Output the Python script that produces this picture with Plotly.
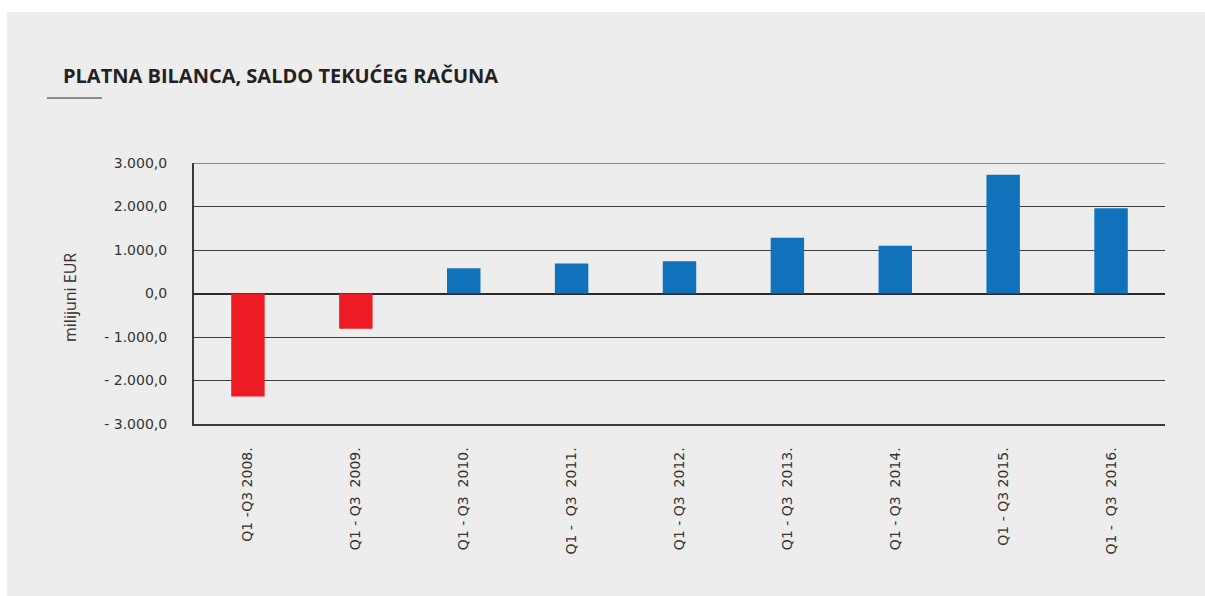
import plotly.graph_objects as go

categories = ["Q1 -Q3 2008.", "Q1 - Q3  2009.", "Q1 - Q3  2010.", "Q1 -  Q3  2011.",
              "Q1 - Q3  2012.", "Q1 - Q3  2013.", "Q1 - Q3  2014.", "Q1 - Q3 2015.",
              "Q1 -  Q3  2016."]
values = [-2370, -810, 580, 690, 740, 1280, 1100, 2730, 1960]
tick_vals = [3000, 2000, 1000, 0, -1000, -2000, -3000]
tick_text = ["3.000,0", "2.000,0", "1.000,0", "0,0", "- 1.000,0", "- 2.000,0", "- 3.000,0"]

RED = "#ED1C24"
BLUE = "#1072BA"
colors = [RED if v < 0 else BLUE for v in values]
labels = [c.replace(" ", "\u00a0") for c in categories]

fig = go.Figure(go.Bar(
    x=labels, y=values, marker=dict(color=colors, line=dict(width=0)),
    width=0.31, hoverinfo="x+y"))

W, H = 1205, 596
L, R, T, B = 194, 40, 163, 172
pw, ph = W - L - R, H - T - B


def px(x):
    return (x - L) / pw


def py(y):
    return 1 - (y - T) / ph


fig.update_layout(
    width=W, height=H,
    margin=dict(l=L, r=R, t=T, b=B),
    paper_bgcolor="#EDEDED",
    plot_bgcolor="rgba(0,0,0,0)",
    showlegend=False,
    font=dict(family="DejaVu Sans, sans-serif", color="#333333"),
    shapes=[
        dict(type="rect", xref="paper", yref="paper", layer="below",
             x0=px(-5), x1=px(W + 5), y0=py(12), y1=py(-5),
             fillcolor="white", line=dict(width=0)),
        dict(type="rect", xref="paper", yref="paper", layer="below",
             x0=px(-5), x1=px(7), y0=py(H + 5), y1=py(-5),
             fillcolor="white", line=dict(width=0)),
        dict(type="line", xref="paper", yref="paper", layer="above",
             x0=px(47), x1=px(102), y0=py(98), y1=py(98),
             line=dict(color="#8a8a8a", width=2)),
    ],
    annotations=[
        dict(text="<b>PLATNA BILANCA, SALDO TEKUĆEG RAČUNA</b>", xref="paper", yref="paper",
             x=px(61), y=py(75), xanchor="left", yanchor="middle",
             showarrow=False, font=dict(family="Open Sans, sans-serif", size=20, color="#222222")),
        dict(text="milijuni EUR", xref="paper", yref="paper",
             x=px(70), y=py(298), xanchor="center", yanchor="middle",
             textangle=-90, showarrow=False,
             font=dict(family="Open Sans, sans-serif", size=16, color="#333333")),
    ],
    xaxis=dict(
        type="category", tickangle=-90, showgrid=False,
        showline=True, mirror=False, linecolor="#3a3a3a", linewidth=1.5,
        ticks="", ticklabelstandoff=16,
        tickfont=dict(family="DejaVu Sans, sans-serif", size=14, color="#333333"),
    ),
    yaxis=dict(
        range=[-3000, 3000], tickvals=tick_vals, ticktext=tick_text,
        showgrid=True, gridcolor="#3c3c3c", gridwidth=1,
        zeroline=True, zerolinecolor="#2a2a2a", zerolinewidth=2,
        showline=True, linecolor="#3a3a3a", linewidth=2,
        ticks="", ticklabelstandoff=22,
        tickfont=dict(family="DejaVu Sans, sans-serif", size=14, color="#333333"),
    ),
)

# lighter top boundary line, drawn above the grid
fig.add_hline(y=tick_vals[0], line_color="#888888", line_width=2, layer="above")

fig.write_html(
    "out.html",
    config={"displayModeBar": False},
    post_script="document.body.style.margin='0';document.body.style.overflow='hidden';",
)
